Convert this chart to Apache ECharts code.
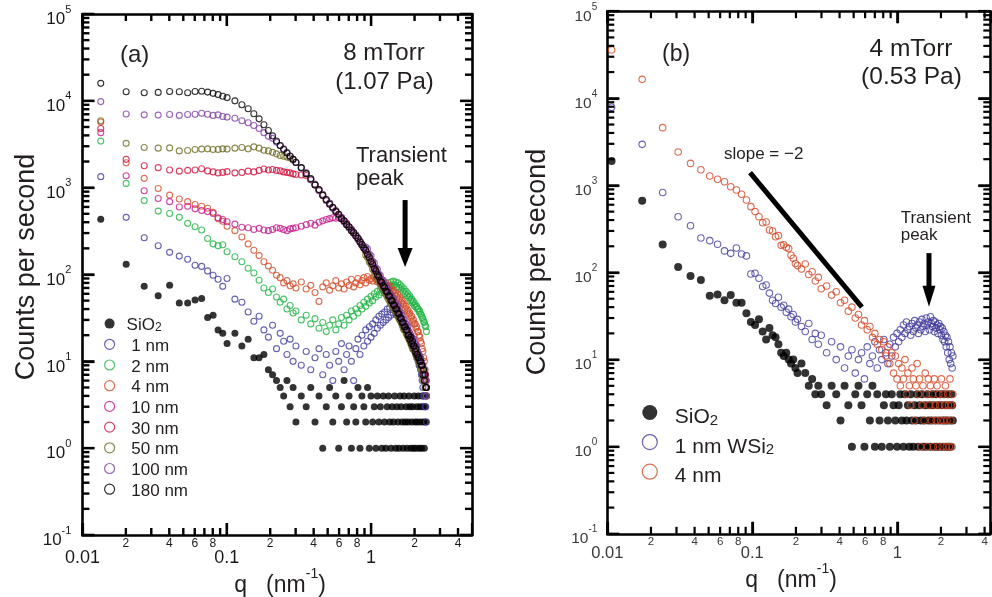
<!DOCTYPE html>
<html>
<head>
<meta charset="utf-8">
<script src="https://cdn.jsdelivr.net/npm/echarts@6/dist/echarts.min.js"></script>
<style>
html,body{margin:0;padding:0;background:#fff;}
#chart{width:992px;height:597px;}
</style>
</head>
<body>
<div id="chart"></div>
<script>
// ---------- data: panel (a), 8 mTorr ----------
const qA = [0.0134,0.0201,0.0268,0.0335,0.0402,0.0469,0.0536,0.0603,0.067,0.0737,0.0804,0.0871,0.0938,0.1005,
  0.1139,0.1273,0.1407,0.1541,0.1675,0.1809,0.1943,0.2077,0.2211,0.2345,0.2479,0.2613,0.2747,0.2881,0.3015,
  0.3283,0.3551,0.3819,0.4087,0.4355,0.4623,0.4891,0.5159,0.5427,0.5695,0.5963,0.6231,0.6499,0.6767,0.7035,0.7303,
  0.7571,0.7839,0.8107,0.8375,0.8643,0.8911,0.9179,0.9447,0.9715,0.9983,1.0251,1.0519,1.0787,1.1055,1.1323,1.1591,
  1.1859,1.2127,1.2395,1.2663,1.2931,1.3199,1.3467,1.3735,1.4003,1.4271,1.4539,1.4807,1.5075,1.5343,1.5611,1.5879,
  1.6147,1.6415,1.6683,1.6951,1.7219,1.7487,1.7755,1.8023,1.8291,1.8559,1.8827,1.9095,1.9363,1.9631,1.9899,2.0167,
  2.0435,2.0703,2.0971,2.1239,2.1507,2.1775,2.2043,2.2311,2.2579,2.2847,2.3115,2.3383,2.3651,2.3919,2.4187];

const sio2A = [432,131,73,57,75,47,47,51,53,32,34,23,21,16,
  21,15,18,11,11,12,8,7,6,5,4,6,3,5,2,
  4,3,5,2,4,1,3,5,2,4, 1,3,6,2,4,1,3,2,5,1, 4,3,2,5,1,4,2,3,1,4, 2,3,1,4,2,1,3,4,2,1,
  3,2,4,1,3,2,1,4,3,2, 1,4,2,3,1,2,4,3,1,2, 3,1,4,2,1,3,2,4,1,3, 2,1,4,3,2,1,3,2,4];

const nm1A = [1340,455,265,214,180,163,150,128,124,110,98,88,73,90,
  52,48,37,29,33,23,19,26,14,21,17,12,18,10,15,
  9,13,8,11,14,7,12,9,6,13, 10,16,8,12,15,10,6,14,18,12, 20,15,23,17,25,19,27,21,30,24,
  33,26,35,28,37,30,40,32,42,34, 44,36,42,35,40,33,36,30,32,28, 26,25,24,22,21,20,19,18,17,16,
  15,14,14,13,12,11,11,10,9,9, 8,7,6,5,4,4,3,3,2];

const nm2A = [3440,1120,710,537,505,455,388,355,325,260,225,215,220,183,
  160,140,118,104,86,70,62,68,55,48,52,40,44,36,38,
  30,34,27,31,24,28,22,26,30,23, 27,32,26,34,30,38,33,40,36,44, 40,48,43,52,47,56,50,60,55,64,
  58,68,62,72,66,76,70,80,72,82, 74,84,76,82,72,80,70,76,68,72, 64,68,60,64,57,60,54,56,50,52,
  47,49,44,46,42,43,40,40,37,38, 35,34,32,31,29,28,26,25,22];

const nm4A = [5700,1940,1280,980,820,740,690,640,610,580,520,440,410,360,
  320,270,225,190,165,140,125,112,98,92,80,85,74,78,70,
  82,68,75,62,49,72,80,66,74,85, 70,78,68,82,75,88,72,80,90,76, 85,92,80,95,86,90,84,95,88,82,
  90,85,78,83,76,80,72,75,68,72, 64,66,60,62,56,58,52,54,48,50, 45,46,41,43,38,39,35,36,32,33,
  29,30,27,27,24,25,22,22,20,19, 17,16,14,13,11,10,8,7,6];

const nm10A = [4300,1370,920,750,690,600,610,570,545,530,505,450,430,405,
  380,350,345,330,340,325,320,330,345,340,330,320,335,340,345,
  360,375,390,370,400,415,430,440,450,445,455,440,
  415,385,352,330,300,283,262,240,218,206,187,173,156,144,129,120,108,102,92,86,79,76,70,66,61,58,55,52,
  49,46,43,41,39,37,35,33,31,29,28,26,25,23,22,21,20,19,18,17,16,15,15,14,13,13,12,11,11,10,10,9,9,8,8,7,7,6,5];

const nm30A = [4800,2120,1790,1700,1600,1550,1580,1600,1650,1560,1520,1480,1500,1530,
  1480,1500,1550,1520,1580,1640,1600,1620,1580,1560,1520,1500,1480,1440,1420,
  1400,1380,1240,1075,945,820,725,650,592,532, 492,445,412,377,352,323,304,280,261,238,
  221,203,189,171,158,142,131,118,110,100, 93,84,80,74,70,65,62,57,55,51, 49,46,44,41,39,37,35,32,31,29,
  28,26,25,23,22,21,20,19,18,17, 16,15,15,14,13,12,12,11,11,10, 10,9,9,8,7,7,6,6,5];

const nm50A = [5900,3240,2900,2850,2870,2650,2680,2750,2780,2800,2750,2760,2800,2780,
  2850,2900,2800,2950,2850,2700,2650,2550,2450,2350,2300,2250,2200,2100,1960,
  1710,1440,1260,1090,930,830,715,660,585,540, 485,452,408,382,348,328,300,284,258,241,
  218,206,167,157,140,131,115,108,96,92, 82,77,71,68,62,59,55,52,49,47, 43,41,39,37,35,33,31,30,28,26,
  24,23,23,21,20,19,18,17,16,15, 14,14,14,13,12,12,11,10,10,9, 9,8,8,7,6,6,5,5,4];

const nm100A = [9800,7050,6900,6850,6950,6800,6950,7000,7200,7000,6800,6900,6600,6500,
  6300,5900,5600,5200,4800,4300,3900,3700,3350,3050,2800,2550,2320,2130,1960,
  1680,1490,1230,1100,925,840,710,665,580,545, 480,455,405,385,345,330,298,285,255,243,
  216,207,207,196,172,164,142,136,119,115, 101,97,87,86,76,75,67,66,59,59, 53,53,47,47,43,43,38,37,34,34,
  30,30,27,27,25,25,22,21,20,19, 18,18,16,16,15,15,13,12,12,11, 11,10,9,9,8,8,7,6,4];

const nm180A = [15900,12700,12400,12500,12800,12700,12400,12800,12900,12600,12200,11800,11300,10900,
  10000,9000,8100,7100,6200,5300,4550,3950,3450,3050,2750,2500,2300,2120,1950,
  1700,1450,1270,1070,950,815,730,645,595,530, 495,440,415,375,355,320,305,278,262,236,
  222,200,190,170,158,141,132,117,110,99, 94,84,81,74,71,64,63,57,56,50, 50,45,44,40,40,36,35,32,31,28,
  28,25,25,23,23,20,20,18,19,16, 17,15,15,13,14,12,12,11,11,10, 10,9,9,7,8,6,7,5,5];

// ---------- data: panel (b), 4 mTorr ----------
const qB = [0.0107,0.0174,0.0241,0.0308,0.0375,0.0442,0.0509,0.0576,0.0643,0.071,0.0777,0.0844,0.0911,0.0978,
  0.1045,0.1112,0.1179,0.1246,0.1313,0.138,0.1447,0.1514,0.1581,0.1648,0.1715,0.1782,0.1849,0.1916,0.1983,0.205,
  0.2184,0.2318,0.2452,0.2586,0.272,0.2854,0.2988,
  0.3256,0.3524,0.3792,0.406,0.4328,0.4596,0.4864,0.5132,0.54,0.5668,0.5936,0.6204,0.6472,0.674,0.7008,0.7276,
  0.7544,0.7812,0.808,0.8348,0.8616,0.8884,0.9152,0.942,0.9688,0.9956,1.0224,1.0492,1.076,1.1028,1.1296,1.1564,
  1.1832,1.21,1.2368,1.2636,1.2904,1.3172,1.344,1.3708,1.3976,1.4244,1.4512,1.478,1.5048,1.5316,1.5584,1.5852,
  1.612,1.6388,1.6656,1.6924,1.7192,1.746,1.7728,1.7996,1.8264,1.8532,1.88,1.9068,1.9336,1.9604,1.9872,2.014,
  2.0408,2.0676,2.0944,2.1212,2.148,2.1748,2.2016,2.2284,2.2552,2.282,2.3088,2.3356,2.3624,2.3892,2.416];

const sio2B = [1900,667,209,116,91,82,54,56,48,55,45,45,34,27,25,29,21,17,23,19,18,15,12,11,12,10,9,10,8,7,
  9,7,5,6,4,5,4,
  3,5,4,2,5,3,1,4,5,3, 1,4,2,5,1,4,2,1,3,4, 2,1,4,3,2,1,3,4,2,1, 4,2,3,1,4,2,1,3,2,4,
  1,3,2,4,1,2,3,1,4,2, 3,1,2,4,3,1,2,4,1,3, 2,1,4,3,2,1,4,2,3,1, 2,4,1,3,2,1,4,3,2];

const nm1B = [7900,2960,830,437,344,249,232,211,177,166,191,163,155,96,98,86,69,72,58,48,44,52,40,42,35,38,31,33,27,29,
  24,21,26,17,20,15,19,
  12,16,10,14,8,11,13,7,10,12, 6,14,9,11,16,8,13,10,17,12, 9,15,11,18,14,20,16,22,18,25,
  20,27,22,24,19,26,21,28,23,25, 20,27,22,29,24,26,21,30,25,27, 22,31,26,24,28,21,27,23,25,20,
  26,22,24,19,23,17,21,16,19,14, 18,12,16,10,14,9,12,8,11];

const nm4B = [35900,16500,4600,2420,1790,1510,1280,1175,1100,965,885,790,680,570,500,437,373,380,307,300,
  257,265,205,208,195,188,158,146,127,120,
  110,125,95,102,80,88,65,
  70,55,60,45,48,36,40,30,33,25, 28,22,24,18,20,15,17,13,16,11, 14,9,12,7,11,6,9,5,8,6,
  10,4,7,5,3,8,6,2,5,9, 4,6,1,3,5,2,7,4,1,6, 3,5,2,4,1,6,3,2,5,1, 4,3,2,6,1,4,2,3,5,1,
  2,4,3,1,6,2,3,1,4];

// ---------- layout constants ----------
const FONT = '"Liberation Sans", Arial, Helvetica, sans-serif';
const INK = '#231f20';
const Q_MIN = 0.01, Q_MAX_A = 5, Q_MAX_B = 4.38, C_MIN = 0.1, C_MAX = 1e5;

const COL = {
  sio2: '#000000', nm1: '#3f3a9b', nm2: '#1fb444', nm4: '#d24c28', nm10: '#c4198d',
  nm30: '#d0123c', nm50: '#6e6b22', nm100: '#7d40a3', nm180: '#000000'
};

function pairs(q, c) {
  const out = [];
  for (let i = 0; i < q.length && i < c.length; i++) out.push([q[i], c[i]]);
  return out;
}

function scatter(name, q, c, color, filled, size, axis) {
  return {
    type: 'scatter', name, data: pairs(q, c), xAxisIndex: axis, yAxisIndex: axis,
    symbol: 'circle', symbolSize: size, silent: true, z: 2,
    itemStyle: filled ? { color: color, borderWidth: 0 }
                      : { color: 'rgba(255,255,255,0)', borderColor: color, borderWidth: 1.1 },
    emphasis: { disabled: true }
  };
}

// tick positions per decade (1..9 times a power of ten)
function decadeTicks(lo, hi) {
  const out = [];
  for (let e = Math.floor(Math.log10(lo) + 1e-9); e <= Math.floor(Math.log10(hi) + 1e-9); e++) {
    for (let m = 1; m <= 9; m++) {
      const v = Number((m * Math.pow(10, e)).toPrecision(6));
      if (v >= lo * 0.999999 && v <= hi * 1.000001) out.push({ v, m });
    }
  }
  return out;
}

// the whole tick comb of one panel, built from a single item like the arrows
function tickFrameSeries(axis, qMax, w, maj, minor) {
  return {
    type: 'custom', xAxisIndex: axis, yAxisIndex: axis, clip: false, silent: true, z: 7,
    data: [[Q_MIN, C_MIN, C_MAX]],
    renderItem: function (params, api) {
      const children = [];
      const bar = (x, y, bw, bh) => ({ type: 'rect', shape: { x: x, y: y, width: bw, height: bh }, style: { fill: '#000' } });
      decadeTicks(Q_MIN, qMax).forEach(t => {
        if (t.v >= qMax * 0.999) return;
        const L = t.m === 1 ? maj : minor;
        const b = api.coord([t.v, C_MIN]);
        const tp = api.coord([t.v, C_MAX]);
        children.push(bar(b[0] - w / 2, b[1] - L, w, L), bar(tp[0] - w / 2, tp[1], w, L));
      });
      decadeTicks(C_MIN, C_MAX).forEach(t => {
        const L = t.m === 1 ? maj : minor;
        const l = api.coord([Q_MIN, t.v]);
        const r = api.coord([qMax, t.v]);
        children.push(bar(l[0], l[1] - w / 2, L, w), bar(r[0] - L, r[1] - w / 2, L, w));
      });
      return { type: 'group', children: children };
    }
  };
}

// tick labels drawn through the axes of one grid
function labelSeries(axis, cfg) {
  const items = [];
  decadeTicks(Q_MIN, cfg.qMax).forEach(t => {
    if (t.m === 1) items.push({ kind: 'xl', x: t.v, y: C_MIN, text: String(t.v), major: true });
    else if (t.m % 2 === 0) items.push({ kind: 'xl', x: t.v, y: C_MIN, text: String(t.m), major: false });
  });
  decadeTicks(C_MIN, C_MAX).forEach(t => {
    if (t.m === 1) items.push({ kind: 'yl', x: Q_MIN, y: t.v, text: '{b|10}{s|' + Math.round(Math.log10(t.v)) + '}' });
  });
  return {
    type: 'custom', xAxisIndex: axis, yAxisIndex: axis, clip: false, silent: true, z: 6,
    data: items.map(d => [d.x, d.y]),
    renderItem: function (params, api) {
      const d = items[params.dataIndex];
      const p = api.coord([d.x, d.y]);
      if (d.kind === 'xl') {
        return {
          type: 'text', x: p[0], y: p[1] + (d.major ? cfg.majOff : cfg.minOff),
          style: {
            text: d.text, fill: cfg.labelColor, fontFamily: FONT,
            fontSize: d.major ? cfg.majFs : cfg.minFs,
            align: 'center', textAlign: 'center', verticalAlign: 'middle', textVerticalAlign: 'middle'
          }
        };
      }
      return {
        type: 'text', x: p[0] - cfg.yOff, y: p[1] + cfg.yDy,
        style: {
          text: d.text, fill: cfg.labelColor, fontFamily: FONT,
          align: 'right', textAlign: 'right', verticalAlign: 'middle', textVerticalAlign: 'middle',
          rich: {
            b: { fontSize: cfg.yFs, fontFamily: FONT, fill: cfg.labelColor, lineHeight: cfg.yFs + 7, verticalAlign: 'bottom' },
            s: { fontSize: cfg.supFs, fontFamily: FONT, fill: cfg.labelColor, lineHeight: cfg.supFs, verticalAlign: 'top' }
          }
        }
      };
    }
  };
}

// vertical arrow: [q, count at tail, count at tip]
function arrowSeries(axis, q, cTail, cTip, shaftW, headW, headL) {
  return {
    type: 'custom', xAxisIndex: axis, yAxisIndex: axis, clip: false, silent: true, z: 7,
    data: [[q, cTail, cTip]],
    renderItem: function (params, api) {
      const a = api.coord([api.value(0), api.value(1)]);
      const b = api.coord([api.value(0), api.value(2)]);
      return {
        type: 'group', children: [
          { type: 'rect', shape: { x: a[0] - shaftW / 2, y: a[1], width: shaftW, height: b[1] - a[1] - headL + 1 }, style: { fill: '#000' } },
          { type: 'polygon', shape: { points: [[b[0] - headW / 2, b[1] - headL], [b[0] + headW / 2, b[1] - headL], [b[0], b[1]]] }, style: { fill: '#000' } }
        ]
      };
    }
  };
}

// log axis with its decade ticks pointing into the plot
function logAxis(grid, max, position, isX) {
  return {
    gridIndex: grid, type: 'log', logBase: 10, position,
    min: isX ? Q_MIN : C_MIN, max: isX ? max : C_MAX,
    axisLine: { show: true, onZero: false, lineStyle: { color: '#000', width: 2.6 } },
    axisTick: { show: true, inside: true, length: 12, lineStyle: { color: '#000', width: 2.2 } },
    axisLabel: { show: false }, splitLine: { show: false }
  };
}

function text(x, y, str, size, align, extra) {
  return {
    type: 'text', x, y,
    style: Object.assign({
      text: str, fill: INK, fontFamily: FONT, fontSize: size,
      align: align, textAlign: align, verticalAlign: 'middle', textVerticalAlign: 'middle'
    }, extra || {})
  };
}

const supRich = (fs, lh, sfs) => ({
  b: { fontSize: fs, fontFamily: FONT, fill: INK, lineHeight: lh, verticalAlign: 'bottom' },
  s: { fontSize: sfs, fontFamily: FONT, fill: INK, lineHeight: sfs, verticalAlign: 'top' }
});

const chart = echarts.init(document.getElementById('chart'));

const namesA = ['SiO2', '1 nm', '2 nm', '4 nm', '10 nm', '30 nm', '50 nm', '100 nm', '180 nm'];
const namesB = ['SiO2', '1 nm WSi2', '4 nm'];

const annotations = [
  text(120, 55, '(a)', 24, 'left'),
  text(384, 53, '8 mTorr', 24, 'center'),
  text(384.5, 82, '(1.07 Pa)', 24, 'center'),
  text(356, 167.5, 'Transient\npeak', 22, 'left', { lineHeight: 23 }),
  text(662, 55, '(b)', 23, 'left'),
  text(911, 49, '4 mTorr', 24.5, 'center'),
  text(911.5, 77, '(0.53 Pa)', 24.5, 'center'),
  text(724, 154, 'slope = \u22122', 17, 'left'),
  text(900.7, 226.5, 'Transient\npeak', 17, 'left', { lineHeight: 17 }),
  Object.assign(text(27, 267, 'Counts per second', 27, 'center'), { rotation: Math.PI / 2 }),
  Object.assign(text(538, 262, 'Counts per second', 27, 'center'), { rotation: Math.PI / 2 }),
  text(280, 582, '{b|q   (nm}{s|-1}{b|)}', 23, 'center', { rich: supRich(23, 30, 14) }),
  text(791, 577, '{b|q   (nm}{s|-1}{b|)}', 23, 'center', { rich: supRich(23, 30, 14) })
];

chart.setOption({
  animation: false,
  textStyle: { fontFamily: FONT },
  grid: [
    { left: 82.4, top: 14, width: 389.6, height: 521 },
    { left: 607.3, top: 11.2, width: 383.0, height: 522.6 }
  ],
  xAxis: [logAxis(0, Q_MAX_A, 'bottom', true), logAxis(0, Q_MAX_A, 'top', true),
          logAxis(1, Q_MAX_B, 'bottom', true), logAxis(1, Q_MAX_B, 'top', true)],
  yAxis: [logAxis(0, 0, 'left', false), logAxis(0, 0, 'right', false),
          logAxis(1, 0, 'left', false), logAxis(1, 0, 'right', false)],
  legend: [
    {
      data: namesA, orient: 'vertical', left: 99, top: 312, itemWidth: 24, itemHeight: 10, itemGap: 3.7,
      selectedMode: false, itemStyle: { borderWidth: 1.2 },
      formatter: n => n === 'SiO2' ? '{b|SiO}{sub|2}' : '{b| ' + n + '}',
      textStyle: {
        color: INK, fontFamily: FONT, fontSize: 17,
        rich: {
          b: { fontSize: 17, fontFamily: FONT, color: INK, lineHeight: 20.8, verticalAlign: 'bottom' },
          sub: { fontSize: 12, fontFamily: FONT, color: INK, lineHeight: 8.8, verticalAlign: 'bottom' }
        }
      }
    },
    {
      data: namesB, orient: 'vertical', left: 636.7, top: 400, itemWidth: 40, itemHeight: 15, itemGap: 6,
      selectedMode: false, itemStyle: { borderWidth: 1.2 },
      formatter: n => n === 'SiO2' ? '{b|SiO}{sub|2}' : n === '1 nm WSi2' ? '{b|1 nm WSi}{sub|2}' : '{b|' + n + '}',
      textStyle: {
        color: INK, fontFamily: FONT, fontSize: 21,
        rich: {
          b: { fontSize: 21, fontFamily: FONT, color: INK, lineHeight: 31, verticalAlign: 'bottom' },
          sub: { fontSize: 15, fontFamily: FONT, color: INK, lineHeight: 17.6, verticalAlign: 'bottom' }
        }
      }
    }
  ],
  series: [
    scatter('SiO2', qA, sio2A, COL.sio2, true, 7, 0),
    scatter('1 nm', qA, nm1A, COL.nm1, false, 6, 0),
    scatter('2 nm', qA, nm2A, COL.nm2, false, 6, 0),
    scatter('4 nm', qA, nm4A, COL.nm4, false, 6, 0),
    scatter('10 nm', qA, nm10A, COL.nm10, false, 6, 0),
    scatter('30 nm', qA, nm30A, COL.nm30, false, 6, 0),
    scatter('50 nm', qA, nm50A, COL.nm50, false, 6, 0),
    scatter('100 nm', qA, nm100A, COL.nm100, false, 6, 0),
    scatter('180 nm', qA, nm180A, COL.nm180, false, 6, 0),
    tickFrameSeries(0, Q_MAX_A, 2.4, 12, 7),
    labelSeries(0, { qMax: Q_MAX_A, majOff: 23, minOff: 9, majFs: 18, minFs: 12,
                     labelColor: '#1a1a1a', yOff: 11, yDy: 2, yFs: 17, supFs: 11 }),
    arrowSeries(0, 1.72, 720, 122, 5, 15, 19),

    scatter('SiO2', qB, sio2B, COL.sio2, true, 8, 2),
    scatter('1 nm WSi2', qB, nm1B, '#433c9c', false, 6.5, 2),
    scatter('4 nm', qB, nm4B, '#d44726', false, 6.5, 2),
    tickFrameSeries(2, Q_MAX_B, 2.2, 12, 7),
    labelSeries(2, { qMax: Q_MAX_B, majOff: 19.5, minOff: 8, majFs: 16.5, minFs: 11.5,
                     labelColor: '#3a3a3a', yOff: 10, yDy: 2, yFs: 15.5, supFs: 10 }),
    arrowSeries(2, 1.654, 167, 40.5, 5, 13, 21),
    {
      type: 'line', xAxisIndex: 2, yAxisIndex: 2, data: [[0.0965, 1400], [0.57, 40]],
      symbol: 'none', silent: true, z: 7, lineStyle: { color: '#000', width: 5, cap: 'butt' }
    }
  ],
  graphic: annotations
});
</script>
</body>
</html>
